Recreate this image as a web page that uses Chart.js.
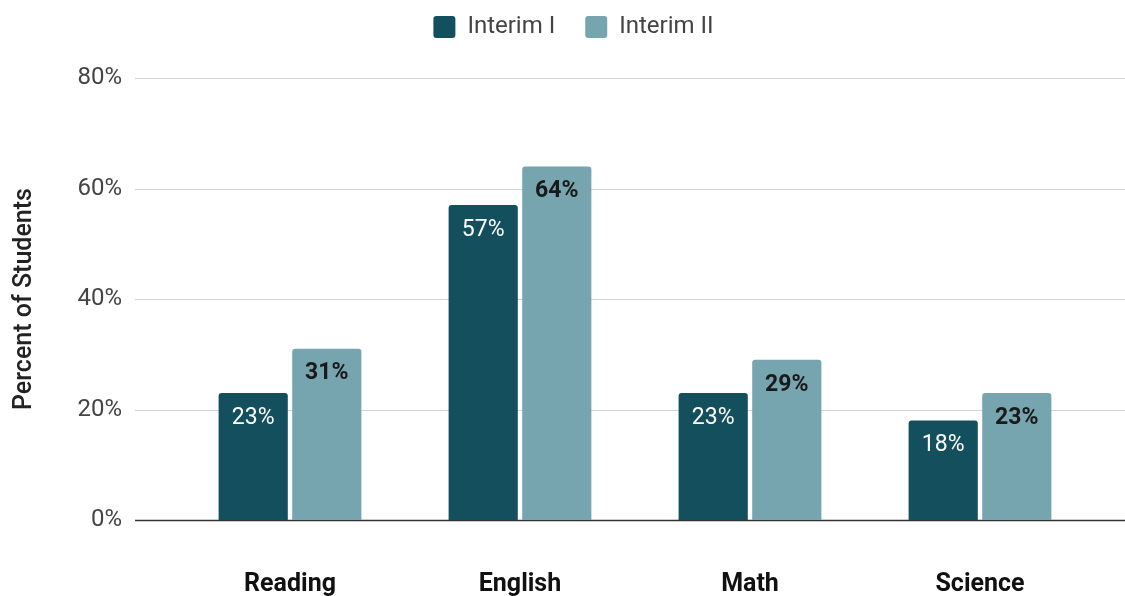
<!DOCTYPE html>
<html>
<head>
<meta charset="utf-8">
<script src="https://cdn.jsdelivr.net/npm/chart.js@4"></script>
<style>
  html, body { margin: 0; padding: 0; background: #fff; }
  #wrap { width: 1125px; height: 596px; }
</style>
</head>
<body>
<div id="wrap"><canvas id="myChart" width="1125" height="596"></canvas></div>
<script>
const subjects = ['Reading', 'English', 'Math', 'Science'];
const interimOne = [23, 57, 23, 18];
const interimTwo = [31, 64, 29, 23];
const yTicks = [0, 20, 40, 60, 80];

const darkTeal = '#134f5c';
const lightTeal = '#76a5af';

// legend sits close to the top edge, slightly right of centre
const legendGap = {
    id: 'legendGap',
    beforeInit(chart) {
        const fit = chart.legend.fit;
        chart.legend.fit = function() {
            fit.bind(chart.legend)();
            this.height += 9;
        };
    },
    afterLayout(chart) {
        chart.legend.left += 42;
        chart.legend.top -= 20;
    }
};

// horizontal grid lines run a bit past the bars on both sides
const wideGrid = {
    id: 'wideGrid',
    beforeDatasetsDraw(chart) {
        const ctx = chart.ctx;
        const y = chart.scales.y;
        const left = chart.chartArea.left - 40;
        const right = chart.width;
        ctx.save();
        yTicks.forEach(v => {
            const py = Math.round(y.getPixelForValue(v)) + 0.5;
            ctx.beginPath();
            ctx.strokeStyle = v === 0 ? '#333333' : '#d4d4d4';
            ctx.lineWidth = v === 0 ? 1.5 : 1;
            ctx.moveTo(left, py);
            ctx.lineTo(right, py);
            ctx.stroke();
        });
        ctx.restore();
    }
};

// value labels sit just inside the top of each bar
const barLabels = {
    id: 'barLabels',
    afterDatasetsDraw(chart) {
        const ctx = chart.ctx;
        ctx.save();
        ctx.textAlign = 'center';
        ctx.textBaseline = 'middle';
        chart.data.datasets.forEach((ds, i) => {
            const meta = chart.getDatasetMeta(i);
            meta.data.forEach((bar, j) => {
                if (i === 0) {
                    ctx.font = '23px Roboto';
                    ctx.fillStyle = '#ffffff';
                } else {
                    ctx.font = 'bold 23px Roboto';
                    ctx.fillStyle = '#1a1a1a';
                }
                ctx.fillText(ds.data[j] + '%', bar.x, bar.y + 25);
            });
        });
        ctx.restore();
    }
};

new Chart(document.getElementById('myChart').getContext('2d'), {
    type: 'bar',
    data: {
        labels: subjects,
        datasets: [{
            label: 'Interim I',
            data: interimOne,
            backgroundColor: darkTeal,
            borderRadius: { topLeft: 3, topRight: 3 },
            borderSkipped: 'bottom',
            categoryPercentage: 0.64,
            barPercentage: 0.94
        }, {
            label: 'Interim II',
            data: interimTwo,
            backgroundColor: lightTeal,
            borderRadius: { topLeft: 3, topRight: 3 },
            borderSkipped: 'bottom',
            categoryPercentage: 0.64,
            barPercentage: 0.94
        }]
    },
    options: {
        responsive: false,
        animation: false,
        layout: {
            padding: { left: 10, right: 30, top: 5, bottom: 0 }
        },
        plugins: {
            tooltip: { enabled: false },
            legend: {
                position: 'top',
                labels: {
                    boxWidth: 22,
                    boxHeight: 22,
                    useBorderRadius: true,
                    borderRadius: 3,
                    padding: 30,
                    color: '#444444',
                    font: { family: 'Roboto', size: 24 }
                }
            }
        },
        scales: {
            x: {
                grid: { display: false, drawTicks: false },
                border: { display: false },
                ticks: {
                    padding: 50,
                    color: '#111111',
                    font: { family: "'Liberation Sans Narrow', 'Arial Narrow', Roboto", size: 25, weight: 'bold' }
                },
                afterFit(scale) { scale.height = 76; }
            },
            y: {
                min: 0,
                max: 80,
                grid: { display: false, drawTicks: false },
                border: { display: false },
                ticks: {
                    stepSize: 20,
                    padding: 53,
                    color: '#444444',
                    font: { family: 'Roboto', size: 24 },
                    callback: v => v + '%'
                },
                title: {
                    display: true,
                    text: 'Percent of Students',
                    color: '#222222',
                    padding: 0,
                    font: { family: 'Roboto', size: 25, weight: '500' }
                },
                afterFit(scale) { scale.width = 165; }
            }
        }
    },
    plugins: [legendGap, wideGrid, barLabels]
});
</script>
</body>
</html>
